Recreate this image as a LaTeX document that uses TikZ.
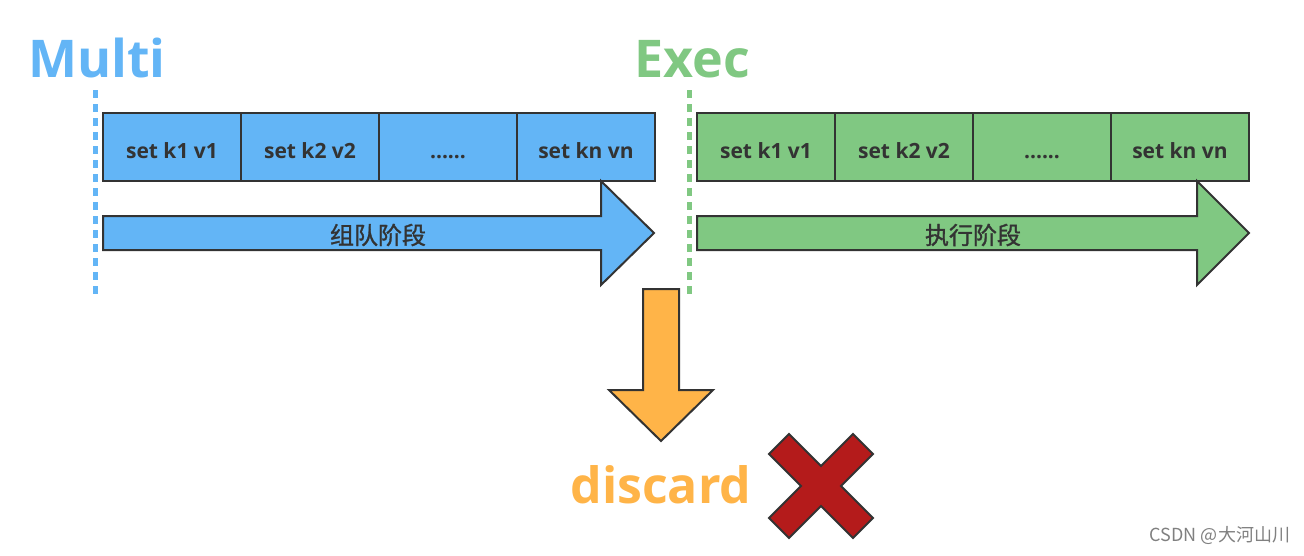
\documentclass[tikz,border=0pt]{standalone}
\usepackage{fontspec}
\setmainfont{Open Sans}
\newfontfamily\cjk{Noto Sans CJK SC}
\newfontfamily\cjkmid{Noto Sans CJK SC}[FakeBold=1.2]
\usetikzlibrary{positioning}
\definecolor{mblue}{RGB}{99,181,246}
\definecolor{egreen}{RGB}{128,200,130}
\definecolor{dorange}{RGB}{255,180,72}
\definecolor{xred}{RGB}{180,27,27}
\definecolor{edge}{RGB}{51,51,51}
\begin{document}
\begin{tikzpicture}%
		[x=1pt, y=-1pt,
		node distance=0pt,
		every node/.style={inner sep=0pt, outer sep=0pt},
		cell/.style={draw=edge, line width=2pt, minimum width=138pt, minimum height=68pt,
			text height=25pt, text depth=3pt,
			font=\fontsize{21}{21}\selectfont\bfseries, text=edge},
		title/.style={font=\fontsize{52}{52}\selectfont\bfseries, anchor=base}
		]
		\tikzstyle{phase}=[draw=edge, line width=2pt, line join=miter]
		\tikzstyle{guide}=[line width=5pt, dash pattern=on 8pt off 6pt]
		\useasboundingbox (0,0) rectangle (1304,555);
		
		% titles and dashed guides
		\node[title, text=mblue] (Multi) at (97,77) {Multi};
		\node[title, text=egreen] (Exec) at (692,77) {Exec};
		\draw[guide, mblue] (95,90) -- (95,298);
		\draw[guide, egreen] (689,90) -- (689,298);
		
		% queued commands
		\node[cell, fill=mblue] (MultiA) at (172,147) {set k1 v1};
		\node[cell, fill=mblue] (MultiB) [right=of MultiA] {set k2 v2};
		\node[cell, fill=mblue] (MultiC) [right=of MultiB] {......};
		\node[cell, fill=mblue] (MultiN) [right=of MultiC] {set kn vn};
		\node[cell, fill=egreen] (ExecA) at (766,147) {set k1 v1};
		\node[cell, fill=egreen] (ExecB) [right=of ExecA] {set k2 v2};
		\node[cell, fill=egreen] (ExecC) [right=of ExecB] {......};
		\node[cell, fill=egreen] (ExecN) [right=of ExecC] {set kn vn};
		
		% phase arrows
		\draw[phase, fill=mblue] (103,216) -- (601,216) -- (601,181) -- (654,233)
			-- (601,285) -- (601,250) -- (103,250) -- cycle;
		\node[font=\cjkmid\fontsize{24}{24}\selectfont, text=edge] (MultiPhase) at (378,235) {组队阶段};
		\draw[phase, fill=egreen] (697,216) -- (1197,216) -- (1197,181) -- (1249,233)
			-- (1197,285) -- (1197,250) -- (697,250) -- cycle;
		\node[font=\cjkmid\fontsize{24}{24}\selectfont, text=edge] (ExecPhase) at (973,235) {执行阶段};
		
		% discard
		\draw[phase, fill=dorange] (643,289) -- (679,289) -- (679,390) -- (713,390)
			-- (661,441) -- (609,390) -- (643,390) -- cycle;
		\node[font=\fontsize{50}{50}\selectfont\bfseries, text=dorange, anchor=base] (Discard) at (661,503) {discard};
		\draw[phase, fill=xred, shift={(821,486)}] (0,-20) -- (32,-52) -- (52,-32) -- (20,0)
			-- (52,32) -- (32,52) -- (0,20) -- (-32,52) -- (-52,32) -- (-20,0)
			-- (-52,-32) -- (-32,-52) -- cycle;
		
		\node[font=\cjk\fontsize{18}{18}\selectfont, text=black!50, anchor=base east] (Mark) at (1290,541) {CSDN @大河山川};
		\end{tikzpicture}
\end{document}
